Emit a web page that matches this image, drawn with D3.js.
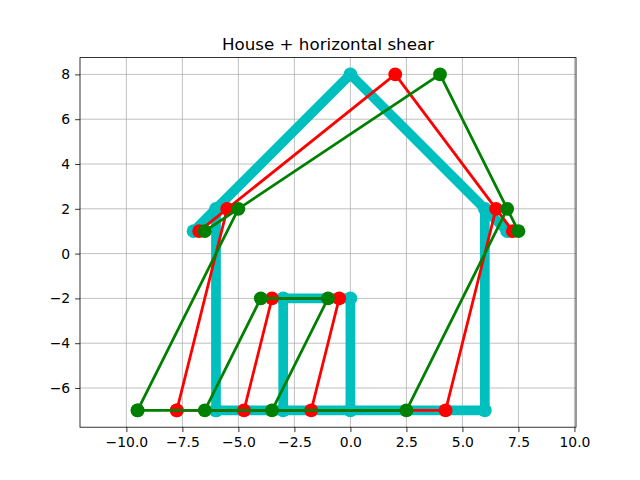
<!DOCTYPE html>
<html><head><meta charset="utf-8">
<script src="https://cdn.jsdelivr.net/npm/d3@7"></script>
<style>body{margin:0;background:#fff}svg{display:block}</style>
</head><body>
<script>
const houseX = [-6, -6, -7, 0, 7, 6, 6, -3, -3, 0, 0, -6];
const houseY = [-7, 2, 1, 8, 1, 2, -7, -7, -2, -2, -7, -7];
const shear1X = [-7.75, -5.5, -6.75, 2, 7.25, 6.5, 4.25, -4.75, -3.5, -0.5, -1.75, -7.75];
const shear1Y = [-7, 2, 1, 8, 1, 2, -7, -7, -2, -2, -7, -7];
const shear2X = [-9.5, -5, -6.5, 4, 7.5, 7, 2.5, -6.5, -4, -1, -3.5, -9.5];
const shear2Y = [-7, 2, 1, 8, 1, 2, -7, -7, -2, -2, -7, -7];
const xTicks = [-10, -7.5, -5, -2.5, 0, 2.5, 5, 7.5, 10];
const yTicks = [-6, -4, -2, 0, 2, 4, 6, 8];
const title = "House + horizontal shear";

(function () {
const W = 640, H = 480;
const mL = 80, mR = 576, mT = 57.6, mB = 427.2;
const svg = d3.select("body").append("svg").attr("width", W).attr("height", H);
const x = d3.scaleLinear().domain([-12.07, 10.07]).range([mL, mR]);
const y = d3.scaleLinear().domain([-7.75, 8.75]).range([mB, mT]);

const font = "'DejaVu Sans', sans-serif";
const g = svg.append("g");
g.selectAll(".gx").data(xTicks).enter().append("line")
  .attr("x1", d => x(d)).attr("x2", d => x(d)).attr("y1", mT).attr("y2", mB)
  .attr("stroke", "#b0b0b0").attr("stroke-width", 0.8);
g.selectAll(".gy").data(yTicks).enter().append("line")
  .attr("y1", d => y(d)).attr("y2", d => y(d)).attr("x1", mL).attr("x2", mR)
  .attr("stroke", "#b0b0b0").attr("stroke-width", 0.8);

function series(xs, ys, color, lw, r) {
  const pts = xs.map((v, i) => [x(v), y(ys[i])]);
  const gg = svg.append("g");
  gg.append("path").attr("d", d3.line()(pts)).attr("fill", "none")
    .attr("stroke", color).attr("stroke-width", lw).attr("stroke-linejoin", "round").attr("stroke-linecap", "square");
  gg.selectAll("circle").data(pts).enter().append("circle")
    .attr("cx", d => d[0]).attr("cy", d => d[1]).attr("r", r).attr("fill", color);
}
series(houseX, houseY, "#00bfbf", 9.7, 6.9);
series(shear1X, shear1Y, "#ff0000", 2.78, 6.9);
series(shear2X, shear2Y, "#008000", 2.78, 6.9);

const xa = d3.axisBottom(x).tickValues(xTicks).tickSize(4.9).tickPadding(4.9)
  .tickFormat(d => (d < 0 ? "\u2212" : "") + Math.abs(d).toFixed(1));
const ya = d3.axisLeft(y).tickValues(yTicks).tickSize(4.9).tickPadding(4.9)
  .tickFormat(d => (d < 0 ? "\u2212" : "") + Math.abs(d));
const gx = svg.append("g").attr("transform", `translate(0,${mB})`).call(xa);
const gy = svg.append("g").attr("transform", `translate(${mL},0)`).call(ya);
[gx, gy].forEach(a => {
  a.select(".domain").remove();
  a.selectAll("line").attr("stroke", "#000").attr("stroke-width", 0.8);
  a.selectAll("text").attr("font-family", font).attr("font-size", "13.9px").attr("fill", "#000");
});
svg.append("rect").attr("x", mL).attr("y", mT).attr("width", mR - mL).attr("height", mB - mT)
  .attr("fill", "none").attr("stroke", "#000").attr("stroke-width", 0.8);

svg.append("text").attr("x", (mL + mR) / 2).attr("y", mT - 8).attr("text-anchor", "middle")
  .attr("font-family", font).attr("font-size", "16.7px").text(title);
})();
</script>
</body></html>
